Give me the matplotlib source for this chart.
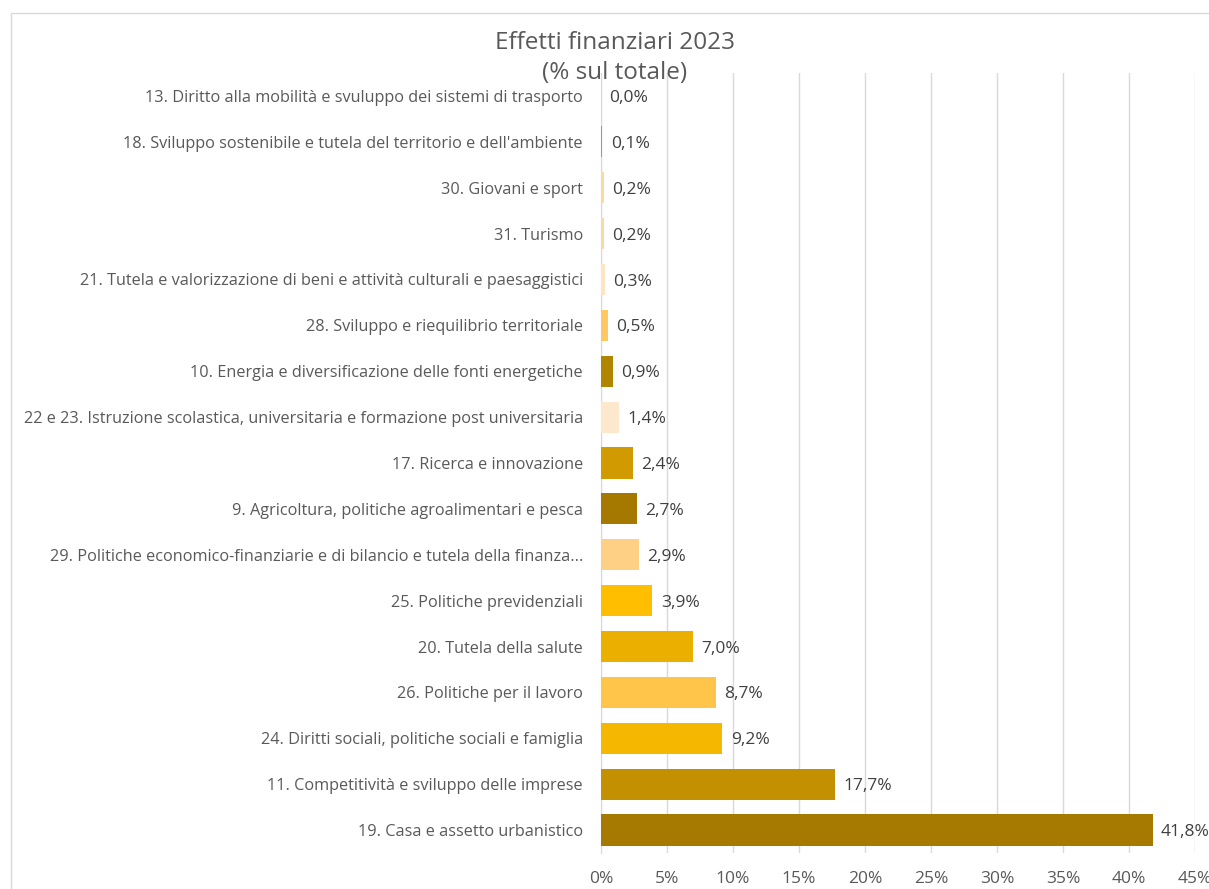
import matplotlib
matplotlib.use("Agg")
import matplotlib.pyplot as plt
from matplotlib.patches import Rectangle

plt.rcParams["font.family"] = ["Open Sans", "DejaVu Sans"]

# Missions, from top to bottom as shown
missions = [
    "13. Diritto alla mobilità e svuluppo dei sistemi di trasporto",
    "18. Sviluppo sostenibile e tutela del territorio e dell'ambiente",
    "30. Giovani e sport",
    "31. Turismo",
    "21. Tutela e valorizzazione di beni e attività culturali e paesaggistici",
    "28. Sviluppo e riequilibrio territoriale",
    "10. Energia e diversificazione delle fonti energetiche",
    "22 e 23. Istruzione scolastica, universitaria e formazione post universitaria",
    "17. Ricerca e innovazione",
    "9. Agricoltura, politiche agroalimentari e pesca",
    "29. Politiche economico-finanziarie e di bilancio e tutela della finanza...",
    "25. Politiche previdenziali",
    "20. Tutela della salute",
    "26. Politiche per il lavoro",
    "24. Diritti sociali, politiche sociali e famiglia",
    "11. Competitività e sviluppo delle imprese",
    "19. Casa e assetto urbanistico",
]
share = [0.0, 0.1, 0.2, 0.2, 0.3, 0.5, 0.9, 1.4, 2.4, 2.7, 2.9, 3.9, 7.0, 8.7, 9.2, 17.7, 41.8]
bar_colors = [
    "#C89A10", "#C89A10", "#FCD9A3", "#FCD8A2", "#FDE4C4", "#FFC862",
    "#B08600", "#FDE8CE", "#D09A00", "#A57800", "#FDD086", "#FFBF00",
    "#EBAF00", "#FEC54A", "#F5B700", "#C29000", "#A67A00",
]
x_ticks = [0, 5, 10, 15, 20, 25, 30, 35, 40, 45]

TEXT = "#595959"
GRID = "#D9D9D9"

fig = plt.figure(figsize=(12.09, 8.89), dpi=100)

# chart frame (cut off at right and bottom)
fig.patches.append(Rectangle((11 / 1209, -0.1), 1.2, 1 - 13 / 889 + 0.1,
                             transform=fig.transFigure, fill=False,
                             edgecolor=GRID, linewidth=1))

ax = fig.add_axes([601 / 1209, 36 / 889, 594 / 1209, 780 / 889])
ax.patch.set_alpha(0)

y = list(range(len(missions)))
ax.barh(y, share, height=0.68, color=bar_colors, zorder=2)
ax.set_ylim(len(missions) - 0.5, -0.5)
ax.set_xlim(0, 45)

for yi, v in zip(y, share):
    ax.annotate(f"{v:.1f}%".replace(".", ","), (v, yi), xytext=(6, -1.5),
                textcoords="offset points", va="center", ha="left",
                fontsize=12.5, color="#404040", zorder=3)

ax.set_yticks(y)
ax.set_yticklabels(missions, fontsize=11.7, color=TEXT)
ax.tick_params(axis="y", length=0, pad=13)

ax.set_xticks(x_ticks)
ax.set_xticklabels([f"{t}%" for t in x_ticks], fontsize=12.5, color=TEXT)
ax.tick_params(axis="x", length=0, pad=13)

ax.grid(axis="x", color=GRID, linewidth=1, zorder=0)
for s in ["top", "right", "bottom"]:
    ax.spines[s].set_visible(False)
ax.spines["left"].set_color(GRID)
ax.spines["left"].set_zorder(1)

fig.text(615 / 1209, 1 - 58 / 889, "Effetti finanziari 2023\n(% sul totale)",
         ha="center", va="center", fontsize=17.5, color=TEXT, linespacing=1.3)

fig.savefig("out.png", dpi=100)
